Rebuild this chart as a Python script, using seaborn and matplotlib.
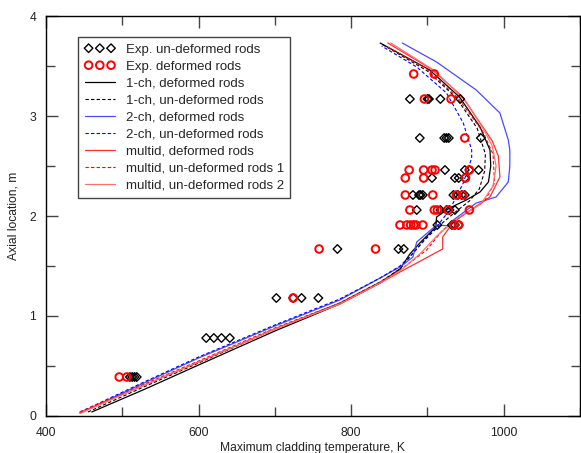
import matplotlib
matplotlib.use("Agg")
import matplotlib.pyplot as plt
from matplotlib.ticker import MultipleLocator
import seaborn as sns
import pandas as pd

# ---------------- data ----------------
exp_undef_T = [510, 513, 516, 519,
               610, 620, 630, 641,
               702, 724, 735, 757,
               782, 862, 869,
               913, 932, 936, 941,
               886, 917, 925, 929, 936,
               881, 889, 891, 894, 934, 940, 945, 949,
               906, 936, 941, 949,
               923, 949, 955, 967,
               890, 922, 925, 928, 970,
               877, 900, 902, 917, 943]
exp_undef_z = [0.39] * 4 + [0.78] * 4 + [1.18] * 4 + [1.67] * 3 + [1.91] * 4 + \
              [2.06] * 5 + [2.21] * 8 + [2.38] * 4 + [2.46] * 4 + [2.78] * 5 + [3.17] * 5

exp_def_T = [496, 506,
             724,
             758, 832,
             864, 873, 878, 882, 885, 894, 935, 941,
             877, 909, 913, 927, 955,
             871, 907, 938, 946,
             871, 895, 950,
             876, 895, 906, 910, 955,
             949,
             896, 931,
             882, 909]
exp_def_z = [0.39] * 2 + [1.18] + [1.67] * 2 + [1.91] * 8 + [2.06] * 5 + [2.21] * 4 + \
            [2.38] * 3 + [2.46] * 5 + [2.78] + [3.17] * 2 + [3.42] * 2

ch1_def_T = [460, 530, 600, 700, 785, 838, 864, 877, 890, 911, 912, 929, 951, 969, 980, 983, 982, 969, 942, 903, 838]
ch1_def_z = [0.04, 0.27, 0.51, 0.85, 1.12, 1.33, 1.47, 1.62, 1.73, 1.89, 1.99, 2.08, 2.16, 2.24, 2.34, 2.50, 2.66, 2.89, 3.19, 3.46, 3.73]

ch1_und_T = [455, 525, 600, 700, 785, 838, 864, 878, 895, 915, 935, 955, 968, 975, 976, 965, 938, 900, 840]
ch1_und_z = [0.04, 0.28, 0.53, 0.87, 1.13, 1.34, 1.47, 1.60, 1.75, 1.90, 2.03, 2.15, 2.27, 2.45, 2.62, 2.88, 3.18, 3.45, 3.72]

ch2_def_T = [445, 520, 600, 700, 785, 838, 864, 881, 886, 912, 931, 934, 964, 990, 1006, 1008, 1008, 1006, 995, 964, 912, 867]
ch2_def_z = [0.03, 0.30, 0.58, 0.90, 1.16, 1.38, 1.49, 1.59, 1.74, 1.91, 1.90, 1.96, 2.13, 2.19, 2.34, 2.50, 2.66, 2.76, 3.03, 3.26, 3.54, 3.73]

ch2_und_T = [445, 520, 600, 700, 785, 838, 864, 880, 895, 912, 929, 947, 958, 958, 947, 925, 886, 840]
ch2_und_z = [0.04, 0.31, 0.59, 0.91, 1.17, 1.38, 1.50, 1.62, 1.75, 1.89, 2.06, 2.33, 2.58, 2.66, 2.93, 3.23, 3.49, 3.70]

md_def_T = [444, 520, 600, 700, 785, 838, 864, 886, 920, 920, 934, 951, 982, 995, 993, 985, 970, 945, 905, 848]
md_def_z = [0.03, 0.28, 0.54, 0.87, 1.12, 1.33, 1.44, 1.53, 1.67, 1.79, 1.94, 2.03, 2.19, 2.39, 2.60, 2.75, 2.92, 3.20, 3.47, 3.73]

md_und1_T = [444, 520, 600, 700, 785, 838, 864, 899, 920, 945, 975, 988, 986, 972, 940, 898, 845]
md_und1_z = [0.04, 0.29, 0.55, 0.88, 1.13, 1.34, 1.46, 1.66, 1.86, 2.00, 2.15, 2.33, 2.62, 2.85, 3.18, 3.48, 3.70]

md_und2_T = [446, 520, 600, 700, 785, 838, 864, 890, 915, 940, 970, 986, 990, 985, 975, 950, 910, 852]
md_und2_z = [0.03, 0.28, 0.54, 0.87, 1.12, 1.33, 1.45, 1.62, 1.82, 1.98, 2.12, 2.30, 2.50, 2.70, 2.85, 3.15, 3.45, 3.73]

x_ticks = [400, 600, 800, 1000]
y_ticks = [0, 1, 2, 3, 4]

# ---------------- plot ----------------
sns.set_style("ticks")
plt.rcParams['font.family'] = ['Liberation Sans', 'DejaVu Sans']

fig = plt.figure(figsize=(5.81, 4.53), dpi=100)
ax = fig.add_axes([46 / 581, 37 / 453, 534 / 581, 400 / 453])

sns.scatterplot(x=exp_undef_T, y=exp_undef_z, ax=ax, marker='D', s=19,
                facecolors='none', edgecolor='black', linewidth=1.0,
                label='Exp. un-deformed rods', zorder=3)
sns.scatterplot(x=exp_def_T, y=exp_def_z, ax=ax, marker='o', s=30,
                facecolors='none', edgecolor='#ff0000', linewidth=1.4,
                label='Exp. deformed rods', zorder=3)

curves = [
    (ch1_def_T, ch1_def_z, 'black', '-', 0.9, '1-ch, deformed rods'),
    (ch1_und_T, ch1_und_z, 'black', (0, (3, 2)), 0.8, '1-ch, un-deformed rods'),
    (ch2_def_T, ch2_def_z, '#4a4aff', '-', 0.9, '2-ch, deformed rods'),
    (ch2_und_T, ch2_und_z, '#0000ff', (0, (3, 2)), 0.8, '2-ch, un-deformed rods'),
    (md_def_T, md_def_z, '#ff3030', '-', 0.9, 'multid, deformed rods'),
    (md_und1_T, md_und1_z, '#ff0000', (0, (3, 2)), 0.8, 'multid, un-deformed rods 1'),
    (md_und2_T, md_und2_z, '#ff7070', '-', 0.9, 'multid, un-deformed rods 2'),
]
for T, z, col, ls, lw, lab in curves:
    df = pd.DataFrame({'T': T, 'z': z})
    sns.lineplot(data=df, x='T', y='z', ax=ax, sort=False, estimator=None,
                 color=col, linestyle=ls, linewidth=lw, label=lab)

ax.set_xlim(400, 1100)
ax.set_ylim(0, 4)
ax.set_xticks(x_ticks)
ax.set_yticks(y_ticks)
ax.xaxis.set_minor_locator(MultipleLocator(100))
ax.yaxis.set_minor_locator(MultipleLocator(0.5))
ax.tick_params(which='both', direction='in', top=True, right=True,
               color='#444444', labelsize=8.7, labelcolor='#222222')
ax.tick_params(which='major', length=8.8, width=1.0)
ax.tick_params(which='minor', length=6.3, width=1.0)
ax.tick_params(axis='x', which='major', pad=8)
ax.tick_params(axis='y', which='major', pad=7)
for sp in ax.spines.values():
    sp.set_color('black')
    sp.set_linewidth(1.0)

ax.set_xlabel('Maximum cladding temperature, K', fontsize=8.7, color='#222222', labelpad=2)
ax.set_ylabel('Axial location, m', fontsize=8.7, color='#222222', labelpad=7)

handles, labels = ax.get_legend_handles_labels()
leg = ax.legend(handles, labels, loc='upper left', bbox_to_anchor=(0.06, 0.9475),
                borderaxespad=0, fontsize=9.5, frameon=True, fancybox=False,
                edgecolor='#444444', framealpha=1, scatterpoints=3,
                scatteryoffsets=[0.5], handlelength=2.3, handletextpad=0.8,
                labelspacing=0.36, borderpad=0.5)
leg.get_frame().set_linewidth(1.0)

fig.savefig('out.png', dpi=100)
